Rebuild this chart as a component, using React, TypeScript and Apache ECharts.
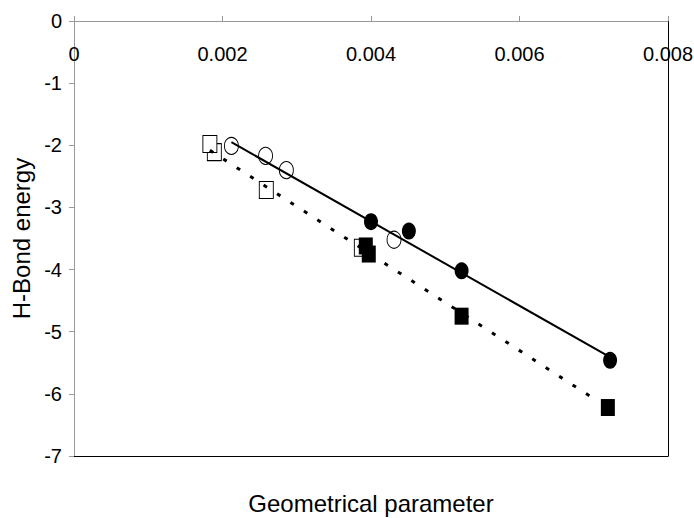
import React, { useEffect, useRef } from "react";
import * as echarts from "echarts";

const xTicks = [0, 0.002, 0.004, 0.006, 0.008];
const yTicks = [0, -1, -2, -3, -4, -5, -6, -7];

const openSquareX = [0.00189, 0.00183, 0.00259, 0.00387];
const openSquareY = [-2.11, -1.98, -2.72, -3.65];
const openCircleX = [0.00212, 0.00258, 0.00286, 0.00431];
const openCircleY = [-2.01, -2.17, -2.4, -3.52];
const filledCircleX = [0.004, 0.00451, 0.00522, 0.00722];
const filledCircleY = [-3.23, -3.38, -4.02, -5.46];
const filledSquareX = [0.00393, 0.00397, 0.00522, 0.00719];
const filledSquareY = [-3.62, -3.75, -4.75, -6.22];
const solidFitX = [0.00212, 0.00716];
const solidFitY = [-1.95, -5.37];
const dottedFitX = [0.00183, 0.00707];
const dottedFitY = [-2.08, -6.13];

const zip = (xs: number[], ys: number[]) => xs.map((x, i) => [x, ys[i]]);

export default function App() {
  const ref = useRef<HTMLDivElement>(null);
  useEffect(() => {
    if (!ref.current) return;
    const chart = echarts.init(ref.current, null, { renderer: "svg" });
    const font = "Liberation Sans, Arial, sans-serif";
    const msize = [14, 17];
    chart.setOption({
      animation: false,
      backgroundColor: "#fff",
      textStyle: { fontFamily: font },
      grid: { left: 74, right: 26, top: 21, bottom: 62, outerBoundsMode: "none", containLabel: false },
      xAxis: [
        {
          type: "value",
          position: "top",
          min: xTicks[0],
          max: xTicks[xTicks.length - 1],
          interval: 0.002,
          axisLine: { show: true, onZero: false, lineStyle: { color: "#999", width: 1 } },
          axisTick: { show: true, inside: false, length: 5, lineStyle: { color: "#999" } },
          axisLabel: {
            inside: true,
            margin: 23,
            color: "#000",
            fontSize: 20,
            fontFamily: font,
            showMaxLabel: true,
            showMinLabel: true,
            formatter: (v: number) => (v === 0 ? "0" : v.toFixed(3)),
          },
          splitLine: { show: false },
        },
        {
          type: "value",
          position: "bottom",
          min: xTicks[0],
          max: xTicks[xTicks.length - 1],
          name: "Geometrical parameter",
          nameLocation: "middle",
          nameGap: 35,
          nameTextStyle: { fontSize: 24, color: "#000", fontFamily: font },
          axisLine: { show: true, onZero: false, lineStyle: { color: "#000", width: 1 } },
          axisTick: { show: false },
          axisLabel: { show: false },
          splitLine: { show: false },
        },
      ],
      yAxis: [
        {
          type: "value",
          position: "left",
          min: yTicks[yTicks.length - 1],
          max: yTicks[0],
          interval: 1,
          name: "H-Bond energy",
          nameLocation: "middle",
          nameGap: 40,
          nameTextStyle: { fontSize: 24, color: "#000", fontFamily: font },
          axisLine: { show: true, onZero: false, lineStyle: { color: "#999", width: 1 } },
          axisTick: { show: true, inside: false, length: 5, lineStyle: { color: "#999" } },
          axisLabel: { margin: 12, color: "#000", fontSize: 20, fontFamily: font },
          splitLine: { show: false },
        },
        {
          type: "value",
          position: "right",
          min: yTicks[yTicks.length - 1],
          max: yTicks[0],
          axisLine: { show: true, onZero: false, lineStyle: { color: "#000", width: 1 } },
          axisTick: { show: false },
          axisLabel: { show: false },
          splitLine: { show: false },
        },
      ],
      series: [
        {
          type: "scatter",
          symbol: "rect",
          symbolSize: msize,
          data: zip(openSquareX, openSquareY),
          itemStyle: { color: "#fff", borderColor: "#000", borderWidth: 1, opacity: 1 },
        },
        {
          type: "scatter",
          symbol: "circle",
          symbolSize: msize,
          data: zip(openCircleX, openCircleY),
          itemStyle: { color: "#fff", borderColor: "#000", borderWidth: 1, opacity: 1 },
        },
        {
          type: "line",
          data: zip(solidFitX, solidFitY),
          showSymbol: false,
          symbol: "none",
          lineStyle: { color: "#000", width: 2 },
        },
        {
          type: "line",
          data: zip(dottedFitX, dottedFitY),
          showSymbol: false,
          symbol: "none",
          lineStyle: { color: "#000", width: 3, type: [4, 12], cap: "butt" },
        },
        {
          type: "scatter",
          symbol: "circle",
          symbolSize: msize,
          data: zip(filledCircleX, filledCircleY),
          itemStyle: { color: "#000", opacity: 1 },
        },
        {
          type: "scatter",
          symbol: "rect",
          symbolSize: msize,
          data: zip(filledSquareX, filledSquareY),
          itemStyle: { color: "#000", opacity: 1 },
        },
      ],
    });
    return () => chart.dispose();
  }, []);
  return <div ref={ref} style={{ width: 694, height: 518, position: "absolute", left: 0, top: 0 }} />;
}
